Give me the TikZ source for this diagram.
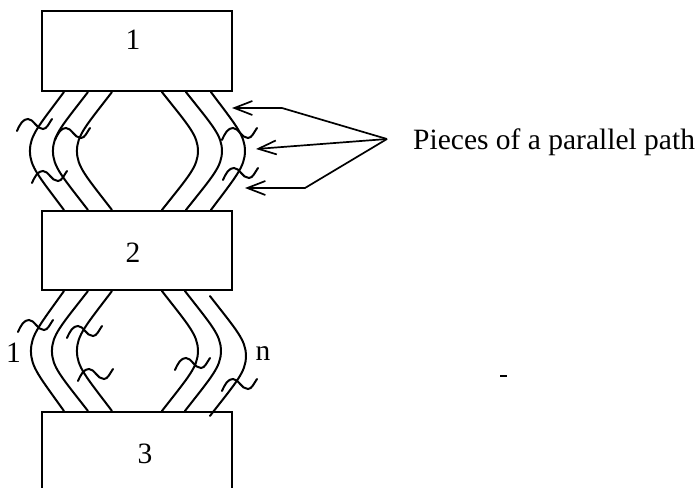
\documentclass[tikz,border=0pt]{standalone}
\usepackage{fontspec}
\setmainfont{Liberation Serif}
\usetikzlibrary{arrows.meta,calc}
\newcommand\strand[5]{%
  \draw[wire] let \p1=([xshift=#3pt,yshift=-#5pt]#1.south west),
                  \p2=([xshift=#3pt,yshift=-#5pt]#2.north west),
                  \n1={0.5*(\y1+\y2)} in
   (\p1) .. controls ({\x1+0.735*(#4pt)},{\y1+0.567*(\n1-\y1)}) and ({\x1+#4pt},{\n1-0.267*(\n1-\y1)})
   .. ({\x1+#4pt},{\n1*1pt}) .. controls ({\x1+#4pt},{\n1+0.267*(\y2-\n1)}) and ({\x1+0.735*(#4pt)},{\y2-0.567*(\y2-\n1)}) .. (\p2);}
\begin{document}
\begin{tikzpicture}[x=1pt,y=-1pt,
  wire/.style={line width=2pt, line cap=round},
  boxst/.style={draw, line width=2.1pt, minimum width=190pt, inner sep=0pt},
  txt/.style={font=\fontsize{29.5}{34}\selectfont, inner sep=0pt, anchor=base},
  arr/.style={line width=1.7pt, line join=round, -{Straight Barb[length=18pt,width=14pt]}},
  squig/.pic={\draw[wire] (0,0) .. controls (3,-7) and (6,-12) .. (11,-12)
      .. controls (17,-12) and (19,-2) .. (26,-2)
      .. controls (30,-2) and (32,-8) .. (35,-12);}]
\useasboundingbox (0,0) rectangle (698,487);
\clip (0,0) rectangle (698,487);
% boxes
\node[boxst, minimum height=80pt] (b1) at (137,51) {};
\node[boxst, minimum height=79pt] (b2) at (137,250.5) {};
\node[boxst, minimum height=100pt] (b3) at (137,462) {};
\node[txt] (n1) at (133,50) {1};
\node[txt] (n2) at (133,262) {2};
\node[txt] (n3) at (145,463) {3};
% strands between 1 and 2
\strand{b1}{b2}{23}{-34}{0}
\strand{b1}{b2}{47}{-35}{0}
\strand{b1}{b2}{71}{-35}{0}
\strand{b1}{b2}{121}{36}{0}
\strand{b1}{b2}{145}{36}{0}
\strand{b1}{b2}{170}{34}{0}
% strands between 2 and 3
\strand{b2}{b3}{23}{-33}{0}
\strand{b2}{b3}{47}{-36}{0}
\strand{b2}{b3}{71}{-35}{0}
\strand{b2}{b3}{121}{36}{0}
\strand{b2}{b3}{144}{36}{0}
\strand{b2}{b3}{169}{36}{5}
% squiggles
\pic at (17,131) {squig};
\pic at (55,140) {squig};
\pic at (32,183) {squig};
\pic at (222,140) {squig};
\pic at (223,180) {squig};
\pic at (18,332) {squig};
\pic at (67,338) {squig};
\pic at (78,381) {squig};
\pic at (175,370) {squig};
\pic at (222,391) {squig};
% labels
\node[txt] (one) at (13.5,362) {1};
\node[txt] (en) at (263,360) {n};
\node[txt, anchor=base west] (lab) at (413,149) {Pieces of a parallel path};
% arrows
\coordinate (src) at (387,139);
\coordinate (k1) at (282,108);
\coordinate (k3) at (305,188);
\coordinate (t1) at (232,108);
\coordinate (t2) at (256,149);
\coordinate (t3) at (245,188);
\draw[arr] (src) -- (k1) -- (t1);
\draw[arr] (src) -- (t2);
\draw[arr] (src) -- (k3) -- (t3);
% small mark
\coordinate (d1) at (500,376);
\coordinate (d2) at (507,376);
\draw[line width=1.5pt] (d1) -- (d2);
\end{tikzpicture}
\end{document}
